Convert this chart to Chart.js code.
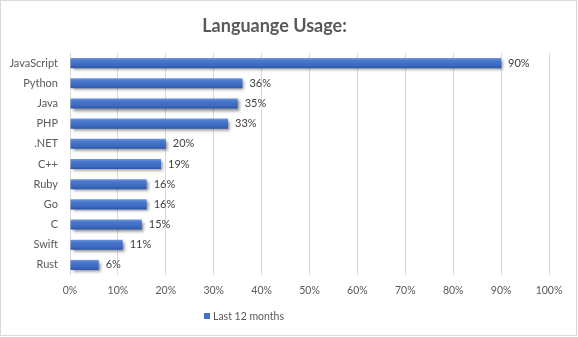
<!DOCTYPE html>
<html>
<head>
<meta charset="utf-8">
<script src="https://cdn.jsdelivr.net/npm/chart.js@4/dist/chart.umd.min.js"></script>
<style>
  html, body { margin: 0; padding: 0; background: #fff; }
  canvas { display: block; }
</style>
</head>
<body>
<canvas id="usageChart" width="578" height="337"></canvas>
<script>
const languages = ["JavaScript", "Python", "Java", "PHP", ".NET", "C++", "Ruby", "Go", "C", "Swift", "Rust"];
const usage = [90, 36, 35, 33, 20, 19, 16, 16, 15, 11, 6];
const seriesName = "Last 12 months";
const xTicks = [0, 10, 20, 30, 40, 50, 60, 70, 80, 90, 100];

const font = "Lato, 'Open Sans', sans-serif";
const textGrey = "#595959";
const seriesBlue = "#4472c4";

// blue bar with a light top edge and a darker bottom, like an office chart
function barFill(context) {
  const chart = context.chart;
  const y = chart.scales.y;
  if (!y) return seriesBlue;
  const c = y.getPixelForValue(context.dataIndex);
  if (!isFinite(c)) return seriesBlue;
  const g = chart.ctx.createLinearGradient(0, c - 5, 0, c + 5);
  g.addColorStop(0, "#6f97dc");
  g.addColorStop(0.25, "#4a78cc");
  g.addColorStop(0.75, "#3b68bf");
  g.addColorStop(1, "#2c55a6");
  return g;
}

const barShadow = {
  id: 'barShadow',
  beforeDatasetsDraw(chart) {
    const ctx = chart.ctx;
    ctx.save();
    ctx.shadowColor = "rgba(0,0,0,0.45)";
    ctx.shadowBlur = 3;
    ctx.shadowOffsetX = 2;
    ctx.shadowOffsetY = 2;
  },
  afterDatasetsDraw(chart) {
    chart.ctx.restore();
  }
};

const valueLabels = {
  id: 'valueLabels',
  afterDatasetsDraw(chart) {
    const ctx = chart.ctx;
    const meta = chart.getDatasetMeta(0);
    ctx.save();
    ctx.font = "11px " + font;
    ctx.fillStyle = "#404040";
    ctx.textAlign = "left";
    ctx.textBaseline = "middle";
    meta.data.forEach((bar, i) => {
      ctx.fillText(usage[i] + "%", bar.x + 7, bar.y);
    });
    ctx.restore();
  }
};

// legend sits a bit left of centre, under the plot
const seriesKey = {
  id: 'seriesKey',
  afterDraw(chart) {
    const ctx = chart.ctx;
    ctx.save();
    ctx.fillStyle = seriesBlue;
    ctx.fillRect(204, 313, 6, 6);
    ctx.font = "10.5px " + font;
    ctx.fillStyle = textGrey;
    ctx.textAlign = "left";
    ctx.textBaseline = "middle";
    ctx.fillText(seriesName, 213, 316.5);
    ctx.restore();
  }
};

const frame = {
  id: 'frame',
  afterDraw(chart) {
    const ctx = chart.ctx;
    ctx.save();
    ctx.strokeStyle = "#d9d9d9";
    ctx.lineWidth = 1;
    ctx.strokeRect(0.5, 0.5, 576, 335);
    ctx.restore();
  }
};

new Chart(document.getElementById('usageChart'), {
  type: 'bar',
  data: {
    labels: languages,
    datasets: [{
      label: seriesName,
      data: usage,
      backgroundColor: barFill,
      borderWidth: 0,
      categoryPercentage: 1,
      barPercentage: 0.5
    }]
  },
  options: {
    indexAxis: 'y',
    responsive: false,
    animation: false,
    layout: { padding: { left: 0, right: 29, top: 0, bottom: 32 } },
    scales: {
      x: {
        min: 0,
        max: 100,
        afterBuildTicks: s => { s.ticks = xTicks.map(v => ({ value: v })); },
        grid: { color: "#d9d9d9", drawTicks: false },
        border: { display: false },
        ticks: {
          padding: 9,
          color: textGrey,
          font: { family: font, size: 10.5 },
          callback: v => v + "%"
        },
        afterFit: s => { s.height = 30; }
      },
      y: {
        grid: { display: false },
        border: { display: false },
        ticks: {
          padding: 4,
          color: textGrey,
          font: { family: font, size: 11 }
        },
        afterFit: s => { s.width = 70; }
      }
    },
    plugins: {
      title: {
        display: true,
        text: "Languange Usage:",
        color: textGrey,
        font: { family: font, size: 18, weight: 'bold' },
        padding: { top: 15, bottom: 16.4 }
      },
      legend: { display: false },
      tooltip: { enabled: false }
    }
  },
  plugins: [barShadow, valueLabels, seriesKey, frame]
});
</script>
</body>
</html>
